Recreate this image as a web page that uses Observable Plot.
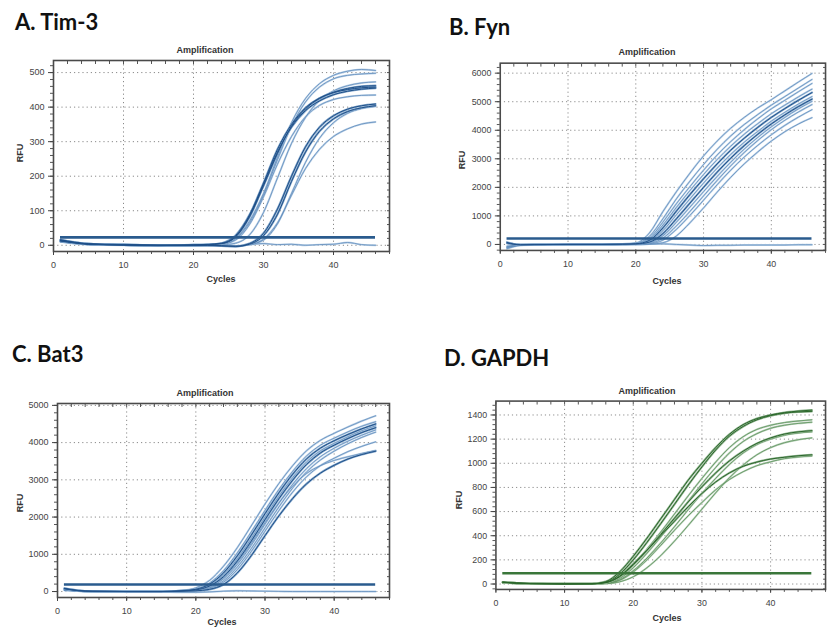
<!DOCTYPE html>
<html><head><meta charset="utf-8">
<script src="https://cdn.jsdelivr.net/npm/d3@7"></script>
<script src="https://cdn.jsdelivr.net/npm/@observablehq/plot@0.6"></script>
<style>
html,body{margin:0;padding:0;background:#fff;width:828px;height:628px;overflow:hidden;}
#root{position:relative;width:828px;height:628px;overflow:hidden;}
.panel{position:absolute;}
#overlay{position:absolute;left:0;top:0;}
</style></head><body><div id="root"></div>
<script>
// ---------- DATA ----------
const cycles = [1, 3, 5, 10, 15, 18, 20, 22, 24, 26, 28, 30, 32, 34, 36, 38, 40, 42, 44, 46];
const cyclesD = [1, 3, 5, 10, 14, 16, 18, 20, 22, 24, 26, 28, 30, 32, 34, 36, 38, 40, 42, 44, 46];

const panelTitles = ["A. Tim-3", "B. Fyn", "C. Bat3", "D. GAPDH"];
const chartTitle = "Amplification";
const xLabel = "Cycles";
const yLabel = "RFU";

const xTicks = [0, 10, 20, 30, 40];
const yTicksA = [0, 100, 200, 300, 400, 500];
const yTicksB = [0, 1000, 2000, 3000, 4000, 5000, 6000];
const yTicksC = [0, 1000, 2000, 3000, 4000, 5000];
const yTicksD = [0, 200, 400, 600, 800, 1000, 1200, 1400];

const thresholdA = 23, thresholdB = 210, thresholdC = 190, thresholdD = 90;

// Tim-3 wells
const timA1 = [14, 8, 4, 1, 0, 0, 0, 1, 4, 20, 70, 150, 255, 355, 425, 468, 492, 504, 509, 506];
const timA2 = [12, 7, 3, 1, 0, -1, 0, 1, 3, 18, 65, 145, 248, 345, 415, 458, 482, 492, 496, 498];
const timA3 = [16, 9, 4, 2, 0, 0, 1, 2, 6, 28, 88, 180, 278, 350, 398, 426, 442, 451, 456, 458];
const timA4 = [13, 7, 3, 1, -1, 0, 1, 2, 5, 25, 85, 176, 270, 342, 390, 418, 436, 446, 452, 455];
const timA5 = [15, 8, 4, 1, 0, 0, 0, 2, 5, 24, 82, 172, 266, 345, 395, 425, 443, 454, 460, 462];
const timA6 = [10, 6, 3, 1, 0, 0, 0, 0, 1, 6, 30, 95, 195, 295, 370, 420, 447, 462, 470, 473];
const timA7 = [11, 6, 3, 1, 0, -1, 0, 1, 3, 15, 60, 140, 235, 315, 372, 405, 422, 430, 434, 435];
const timA8 = [14, 8, 4, 1, 0, 0, 0, 0, -2, -3, 5, 35, 105, 200, 285, 342, 375, 394, 404, 409];
const timA9 = [12, 7, 3, 1, 0, 0, 0, 0, -1, -3, 3, 28, 90, 185, 270, 330, 366, 387, 398, 404];
const timA10 = [10, 6, 3, 1, 0, 0, 0, 0, -1, -2, 2, 18, 65, 145, 222, 278, 315, 337, 351, 357];
const timA11 = [10, 5, 2, 0, 0, 0, 0, 0, -1, -2, 2, 15, 62, 150, 240, 310, 355, 382, 396, 402];
const timA12 = [12, 6, 3, 1, 0, 0, 0, 0, 1, -3, 2, 5, 2, 3, 0, 2, 3, 8, 2, 0];
const timTones = ["light","light","dark","dark","dark","light","light","dark","dark","light","light","light"];

// Fyn wells
const fynB1 = [80, -20, -10, 0, 0, 20, 50, 400, 1150, 1850, 2500, 3100, 3620, 4070, 4450, 4780, 5070, 5380, 5690, 5990];
const fynB2 = [-150, -30, -5, 0, 5, 15, 40, 280, 900, 1600, 2220, 2800, 3330, 3800, 4200, 4550, 4880, 5180, 5480, 5780];
const fynB3 = [60, -10, -5, 0, 0, 12, 35, 220, 780, 1430, 2030, 2600, 3130, 3600, 4020, 4400, 4750, 5050, 5350, 5640];
const fynB4 = [-120, -25, -8, 0, 3, 10, 30, 180, 680, 1300, 1890, 2450, 2970, 3440, 3860, 4230, 4580, 4880, 5170, 5440];
const fynB5 = [70, -15, -5, 0, 0, 10, 25, 140, 580, 1170, 1750, 2300, 2820, 3300, 3720, 4100, 4450, 4760, 5050, 5320];
const fynB6 = [-100, -20, -5, 0, 2, 8, 20, 110, 480, 1040, 1600, 2150, 2670, 3150, 3580, 3960, 4320, 4630, 4920, 5180];
const fynB7 = [50, -10, -5, 0, 0, 8, 15, 80, 380, 900, 1450, 2000, 2530, 3020, 3460, 3860, 4220, 4540, 4830, 5090];
const fynB8 = [-80, -20, -5, 0, 0, 5, 10, 60, 300, 780, 1310, 1850, 2380, 2880, 3340, 3750, 4120, 4450, 4750, 5010];
const fynB9 = [40, -10, -5, 0, 0, 5, 8, 40, 220, 650, 1160, 1700, 2240, 2750, 3220, 3640, 4020, 4350, 4640, 4900];
const fynB10 = [-60, -15, -5, 0, 0, 3, 5, 25, 150, 530, 1020, 1550, 2090, 2600, 3060, 3470, 3840, 4170, 4460, 4720];
const fynB11 = [30, -10, -5, 0, 0, 0, 0, 10, 60, 300, 760, 1280, 1830, 2350, 2820, 3240, 3620, 3950, 4220, 4440];
const fynB12 = [-100, -30, -20, -10, 0, 0, 0, 10, 20, 0, -20, -40, -30, -30, -20, -20, -20, -20, -10, -10];
const fynTones = ["light","light","light","light","dark","light","dark","light","light","light","light","light"];

// Bat3 wells
const batC1 = [50, 20, 5, 0, 0, 30, 100, 300, 680, 1180, 1760, 2350, 2900, 3380, 3780, 4060, 4250, 4420, 4580, 4720];
const batC2 = [45, 18, 5, 0, 0, 25, 70, 230, 560, 1040, 1600, 2180, 2740, 3230, 3640, 3930, 4120, 4290, 4440, 4560];
const batC3 = [80, 25, 8, 0, 0, 22, 60, 200, 500, 960, 1510, 2090, 2650, 3150, 3560, 3850, 4050, 4220, 4370, 4500];
const batC4 = [40, 15, 5, 0, 0, 20, 50, 170, 440, 880, 1420, 2000, 2560, 3060, 3480, 3780, 3980, 4160, 4320, 4450];
const batC5 = [75, 22, 6, 0, 0, 18, 45, 150, 400, 820, 1350, 1930, 2490, 2990, 3410, 3720, 3930, 4110, 4270, 4400];
const batC6 = [40, 15, 5, 0, 0, 15, 35, 120, 340, 730, 1240, 1810, 2370, 2880, 3300, 3620, 3850, 4040, 4200, 4340];
const batC7 = [35, 12, 4, 0, 0, 12, 30, 100, 290, 660, 1150, 1710, 2270, 2780, 3210, 3530, 3770, 3970, 4140, 4280];
const batC8 = [35, 12, 4, 0, 0, 10, 25, 85, 250, 590, 1070, 1620, 2170, 2670, 3080, 3380, 3580, 3760, 3900, 4020];
const batC9 = [85, 28, 8, 0, 0, 8, 20, 60, 190, 500, 960, 1500, 2030, 2500, 2890, 3180, 3390, 3560, 3680, 3770];
const batC10 = [40, 15, 5, 0, 0, 16, 40, 135, 370, 780, 1290, 1850, 2380, 2830, 3170, 3380, 3520, 3620, 3710, 3790];
const batC11 = [60, 20, 5, 0, -10, -20, -20, -10, 10, 20, 15, 10, 5, 0, 0, 0, 0, 0, 0, 0];
const batTones = ["light","light","dark","light","dark","light","light","light","dark","light","light"];

// GAPDH wells
const gapD1 = [15, 8, 4, 1, 2, 20, 100, 230, 380, 540, 700, 860, 1000, 1130, 1240, 1320, 1370, 1400, 1420, 1432, 1440];
const gapD2 = [14, 7, 3, 1, 2, 15, 80, 200, 345, 500, 660, 820, 970, 1110, 1225, 1305, 1360, 1395, 1415, 1425, 1430];
const gapD3 = [12, 6, 3, 0, 1, 10, 60, 160, 290, 430, 580, 730, 875, 1010, 1130, 1220, 1280, 1315, 1337, 1350, 1360];
const gapD4 = [10, 5, 2, 0, 1, 8, 45, 135, 255, 390, 535, 685, 830, 965, 1085, 1180, 1245, 1290, 1315, 1330, 1340];
const gapD5 = [16, 8, 4, 1, 2, 12, 60, 160, 280, 410, 545, 680, 805, 920, 1020, 1100, 1165, 1210, 1242, 1260, 1270];
const gapD6 = [10, 5, 2, 0, 1, 5, 35, 110, 215, 340, 475, 615, 750, 875, 990, 1085, 1155, 1200, 1232, 1250, 1260];
const gapD7 = [10, 5, 2, 0, 0, 3, 18, 60, 135, 235, 355, 485, 620, 755, 880, 985, 1070, 1130, 1170, 1195, 1210];
const gapD8 = [15, 8, 4, 1, 2, 12, 65, 165, 280, 400, 520, 640, 750, 845, 920, 975, 1010, 1035, 1050, 1062, 1070];
const gapD9 = [10, 5, 2, 0, 1, 5, 30, 100, 200, 320, 445, 565, 675, 780, 865, 930, 980, 1012, 1038, 1052, 1060];
const gapTones = ["dark","dark","light","light","dark","light","light","dark","light"];

// ---------- STYLES ----------
const blue = {darkHalo:"#7ea3c9", darkCore:"#1f5089", lightHalo:"#bcd2e8", lightCore:"#5f8cbb", thr:"#2a5b8e"};
const green = {darkHalo:"#8fb38f", darkCore:"#2a662a", lightHalo:"#b8d1b8", lightCore:"#5a8f5a", thr:"#3a763a"};

function makePanel(cfg) {
  const rows = [];
  cfg.series.forEach((vals, i) => vals.forEach((v, j) => rows.push({x: cfg.cycles[j], y: v, s: i, tone: cfg.tones[i]})));
  const light = rows.filter(d => d.tone === "light");
  const dark = rows.filter(d => d.tone === "dark");
  const [d0, d1] = cfg.yDomain;
  const step = cfg.yTicks[1] - cfg.yTicks[0];
  const ms = step / 5;
  const yMinor = d3.range(Math.ceil(d0 / ms) * ms, d1, ms);
  const xMinor = d3.range(0, 49, 2);
  const xFirst = cfg.cycles[0], xLast = cfg.cycles[cfg.cycles.length - 1];
  const c = cfg.colors;
  const blank = () => "";
  const fmt = d3.format("d");
  return Plot.plot({
    width: cfg.width, height: cfg.height,
    marginLeft: cfg.ml, marginRight: cfg.mr, marginTop: cfg.mt, marginBottom: cfg.mb,
    x: {domain: [0, 48]},
    y: {domain: cfg.yDomain},
    style: {fontFamily: "'Liberation Sans', Arial, sans-serif", fontSize: "9px", color: "#444", background: "transparent", overflow: "visible"},
    marks: [
      Plot.gridX(xTicks.filter(v => v > 0), {stroke: "#8a8a8a", strokeOpacity: 1, strokeDasharray: "1.2,3"}),
      Plot.gridY(cfg.yTicks, {stroke: "#8a8a8a", strokeOpacity: 1, strokeDasharray: "1.2,3"}),
      Plot.line(light, {x: "x", y: "y", z: "s", stroke: c.lightHalo, strokeWidth: 1.9, curve: "monotone-x"}),
      Plot.line(light, {x: "x", y: "y", z: "s", stroke: c.lightCore, strokeWidth: 0.8, curve: "monotone-x"}),
      Plot.line(dark, {x: "x", y: "y", z: "s", stroke: c.darkHalo, strokeWidth: 2.2, curve: "monotone-x"}),
      Plot.line(dark, {x: "x", y: "y", z: "s", stroke: c.darkCore, strokeWidth: 1.0, curve: "monotone-x"}),
      Plot.ruleY([cfg.threshold], {x1: xFirst, x2: xLast, stroke: c.thr, strokeWidth: 2.6}),
      Plot.axisX(xMinor, {anchor: "bottom", tickSize: 3, tickFormat: blank, label: null, stroke: "#555"}),
      Plot.axisX(xMinor, {anchor: "top", tickSize: -3, tickFormat: blank, label: null, stroke: "#555"}),
      Plot.axisX(xTicks, {anchor: "bottom", tickSize: 4, tickPadding: 6, tickFormat: fmt, label: null, stroke: "#444", fill: "#444"}),
      Plot.axisY(yMinor, {anchor: "left", tickSize: 3, tickFormat: blank, label: null, stroke: "#555"}),
      Plot.axisY(yMinor, {anchor: "right", tickSize: -3, tickFormat: blank, label: null, stroke: "#555"}),
      Plot.axisY(cfg.yTicks, {anchor: "left", tickSize: 5, tickPadding: 4, tickFormat: fmt, label: null, stroke: "#444", fill: "#444"}),
      Plot.frame({stroke: "#4a4a4a", strokeWidth: 1.6})
    ]
  });
}

const panels = [
  {left: 0, top: 40, width: 400, height: 250, ml: 53, mr: 11, mt: 20, mb: 39,
   cycles, series: [timA1, timA2, timA3, timA4, timA5, timA6, timA7, timA8, timA9, timA10, timA11, timA12], tones: timTones,
   yTicks: yTicksA, yDomain: [-18, 535], threshold: thresholdA, colors: blue},
  {left: 414, top: 40, width: 420, height: 250, ml: 87, mr: 3, mt: 23, mb: 37,
   cycles, series: [fynB1, fynB2, fynB3, fynB4, fynB5, fynB6, fynB7, fynB8, fynB9, fynB10, fynB11, fynB12], tones: fynTones,
   yTicks: yTicksB, yDomain: [-210, 6350], threshold: thresholdB, colors: blue},
  {left: 0, top: 380, width: 400, height: 248, ml: 57, mr: 11, mt: 23, mb: 31,
   cycles, series: [batC1, batC2, batC3, batC4, batC5, batC6, batC7, batC8, batC9, batC10, batC11], tones: batTones,
   yTicks: yTicksC, yDomain: [-160, 5050], threshold: thresholdC, colors: blue},
  {left: 414, top: 380, width: 422, height: 248, ml: 83, mr: 3, mt: 21, mb: 35,
   cycles: cyclesD, series: [gapD1, gapD2, gapD3, gapD4, gapD5, gapD6, gapD7, gapD8, gapD9], tones: gapTones,
   yTicks: yTicksD, yDomain: [-45, 1515], threshold: thresholdD, colors: green}
];

const root = document.getElementById("root");
panels.forEach(p => {
  const div = document.createElement("div");
  div.className = "panel";
  div.style.left = p.left + "px";
  div.style.top = p.top + "px";
  div.appendChild(makePanel(p));
  root.appendChild(div);
});

// ---------- TEXT OVERLAY ----------
const svgNS = "http://www.w3.org/2000/svg";
const ov = document.createElementNS(svgNS, "svg");
ov.setAttribute("id", "overlay");
ov.setAttribute("width", 828);
ov.setAttribute("height", 628);
root.appendChild(ov);
function txt(s, x, y, opts) {
  const t = document.createElementNS(svgNS, "text");
  t.textContent = s;
  t.setAttribute("x", x); t.setAttribute("y", y);
  t.setAttribute("font-family", opts.family || "'Liberation Sans', Arial, sans-serif");
  t.setAttribute("font-size", opts.size);
  t.setAttribute("font-weight", opts.weight || "normal");
  t.setAttribute("fill", opts.fill || "#222");
  t.setAttribute("text-anchor", opts.anchor || "start");
  if (opts.rotate) t.setAttribute("transform", `rotate(-90 ${x} ${y})`);
  ov.appendChild(t);
}
const titleOpts = {family: "Lato, 'Open Sans', sans-serif", size: 22, weight: "bold", fill: "#111"};
txt(panelTitles[0], 15, 30, titleOpts);
txt(panelTitles[1], 449, 35, titleOpts);
txt(panelTitles[2], 12, 362, titleOpts);
txt(panelTitles[3], 444, 366, titleOpts);

const small = {size: 9, weight: "bold", fill: "#333", anchor: "middle"};
[[205, 53], [647, 55], [205, 396], [647, 394]].forEach(([x, y]) => txt(chartTitle, x, y, small));
[[221, 282], [667, 284], [222, 625], [667, 621]].forEach(([x, y]) => txt(xLabel, x, y, small));
[[23, 153], [465, 160], [23, 503], [462, 500]].forEach(([x, y]) => txt(yLabel, x, y, {...small, rotate: true}));
</script>
</body></html>
